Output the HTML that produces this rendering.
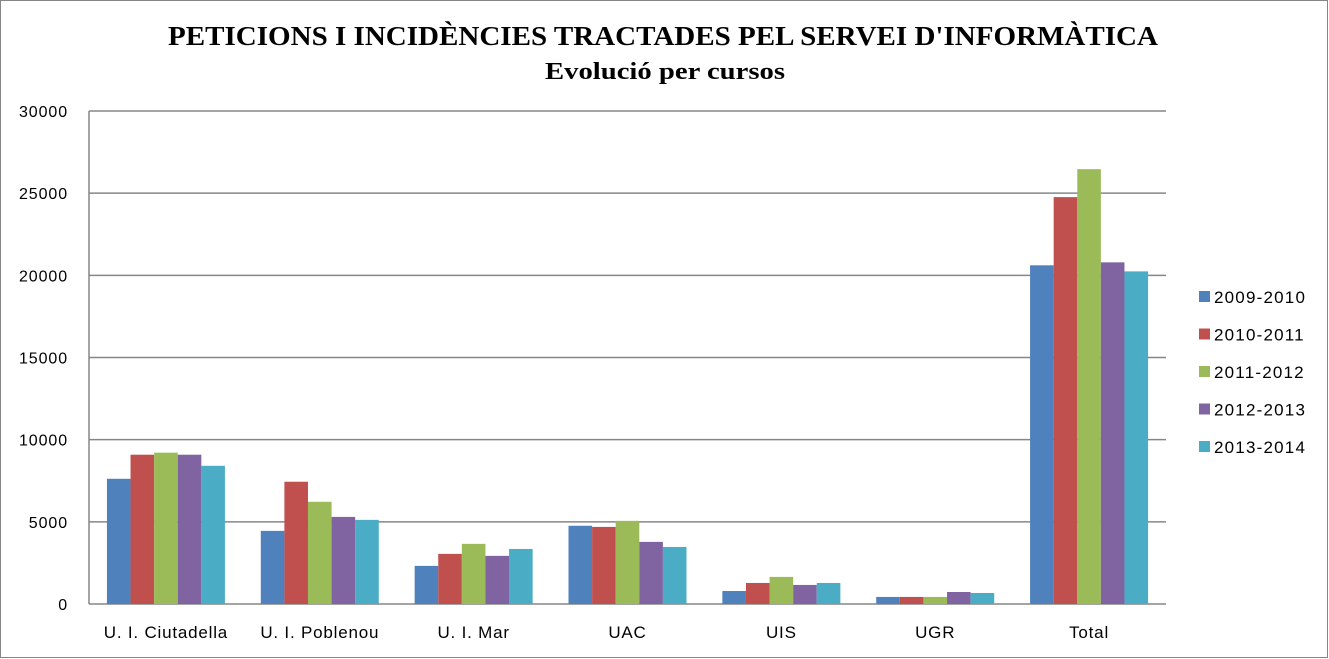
<!DOCTYPE html>
<html><head><meta charset="utf-8"><style>
body{margin:0;background:#fff}
svg{display:block;font-family:"Liberation Sans",sans-serif}
</style></head><body>
<svg id="c" width="1329" height="659">
<rect x="0.5" y="0.5" width="1327" height="657" fill="#fff" stroke="#868686"/>
<text x="168" y="45" textLength="990" lengthAdjust="spacingAndGlyphs" font-family="Liberation Serif" font-weight="bold" font-size="27">PETICIONS I INCIDÈNCIES TRACTADES PEL SERVEI D'INFORMÀTICA</text>
<text x="545" y="79" textLength="240" lengthAdjust="spacingAndGlyphs" font-family="Liberation Serif" font-weight="bold" font-size="24">Evolució per cursos</text>
<g id="grid"></g><g id="bars"></g><g id="labels"></g><g id="legend"></g>
</svg>
<script>
const categories=["U. I. Ciutadella","U. I. Poblenou","U. I. Mar","UAC","UIS","UGR","Total"];
const seriesNames=["2009-2010","2010-2011","2011-2012","2012-2013","2013-2014"];
const s2009=[7620,4450,2320,4760,790,430,20610];
const s2010=[9085,7440,3050,4690,1280,430,24760];
const s2011=[9210,6220,3660,5060,1650,430,26460];
const s2012=[9085,5300,2930,3780,1160,730,20790];
const s2013=[8410,5120,3350,3470,1280,670,20240];
const yTicks=[0,5000,10000,15000,20000,25000,30000];
const series=[s2009,s2010,s2011,s2012,s2013];
const colors=["#4f81bd","#c0504d","#9bbb59","#8064a2","#4bacc6"];
const NS="http://www.w3.org/2000/svg";
const x0=89,x1=1166,yTop=111,yBot=604,yMax=30000;
const y=v=>yBot-(v/yMax)*(yBot-yTop);
const catW=(x1-x0)/categories.length;
const barW=23.6,off=(catW-5*barW)/2;
function mk(t,a,p){const e=document.createElementNS(NS,t);for(const k in a)e.setAttribute(k,a[k]);p.appendChild(e);return e;}
const g=document.getElementById('grid');
yTicks.forEach(v=>{
 const l=mk('line',{x1:x0,x2:x1,y1:y(v),y2:y(v),stroke:'#868686','stroke-width':1.5},g);
 
 
 const t=mk('text',{x:68,y:y(v)+6,'text-anchor':'end','font-size':16,'letter-spacing':0.9},g);
 t.textContent=v;
 
 
});
const ax=mk('line',{x1:x0,x2:x0,y1:yTop,y2:yBot,stroke:'#868686','stroke-width':1.5},g);


const b=document.getElementById('bars');
categories.forEach((c,i)=>{
 series.forEach((s,j)=>{
  const r=mk('rect',{x:x0+i*catW+off+j*barW,y:y(s[i]),width:barW,height:yBot-y(s[i]),fill:colors[j]},b);
  
  
 });
 const t=mk('text',{x:x0+(i+0.5)*catW,y:638,'text-anchor':'middle','font-size':17,'letter-spacing':0.8},document.getElementById('labels'));
 t.textContent=c;
 
 
});
const lg=document.getElementById('legend');
seriesNames.forEach((n,j)=>{
 const yy=297+j*37.5;
 const r=mk('rect',{x:1199,y:yy-6,width:11,height:11,fill:colors[j]},lg);
 
 
 const t=mk('text',{x:1214,y:yy+6,'font-size':17,'letter-spacing':1.2},lg);
 t.textContent=n;
 
 
});
</script>
</body></html>
